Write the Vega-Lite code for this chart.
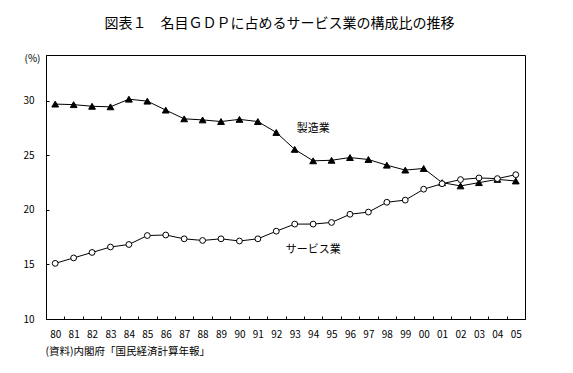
{
  "$schema": "https://vega.github.io/schema/vega-lite/v6.json",
  "width": 479,
  "height": 264,
  "autosize": {"type": "none"},
  "padding": {"left": 46, "top": 55, "right": 48, "bottom": 54},
  "background": "white",
  "title": {"text": "図表１　名目ＧＤＰに占めるサービス業の構成比の推移", "fontSize": 14, "fontWeight": "normal", "font": "Noto Sans CJK JP", "color": "black", "anchor": "middle", "offset": 22, "dx": -6},
  "config": {
    "view": {"stroke": "black", "strokeWidth": 1},
    "font": "Noto Sans CJK JP",
    "axis": {"labelFont": "Noto Sans CJK JP", "labelFontSize": 10, "labelColor": "black", "tickColor": "black", "domainColor": "black", "grid": false, "titleFont": "Noto Sans CJK JP", "titleFontWeight": "normal", "titleColor": "black"}
  },
  "datasets": {
    "series": [
      {"year": "80", "series": "製造業", "value": 29.7},
      {"year": "81", "series": "製造業", "value": 29.65},
      {"year": "82", "series": "製造業", "value": 29.5},
      {"year": "83", "series": "製造業", "value": 29.45},
      {"year": "84", "series": "製造業", "value": 30.15},
      {"year": "85", "series": "製造業", "value": 29.97},
      {"year": "86", "series": "製造業", "value": 29.15},
      {"year": "87", "series": "製造業", "value": 28.35},
      {"year": "88", "series": "製造業", "value": 28.25},
      {"year": "89", "series": "製造業", "value": 28.1},
      {"year": "90", "series": "製造業", "value": 28.3},
      {"year": "91", "series": "製造業", "value": 28.1},
      {"year": "92", "series": "製造業", "value": 27.1},
      {"year": "93", "series": "製造業", "value": 25.55},
      {"year": "94", "series": "製造業", "value": 24.5},
      {"year": "95", "series": "製造業", "value": 24.55},
      {"year": "96", "series": "製造業", "value": 24.8},
      {"year": "97", "series": "製造業", "value": 24.62},
      {"year": "98", "series": "製造業", "value": 24.1},
      {"year": "99", "series": "製造業", "value": 23.65},
      {"year": "00", "series": "製造業", "value": 23.8},
      {"year": "01", "series": "製造業", "value": 22.5},
      {"year": "02", "series": "製造業", "value": 22.2},
      {"year": "03", "series": "製造業", "value": 22.5},
      {"year": "04", "series": "製造業", "value": 22.8},
      {"year": "05", "series": "製造業", "value": 22.65},
      {"year": "80", "series": "サービス業", "value": 15.1},
      {"year": "81", "series": "サービス業", "value": 15.6},
      {"year": "82", "series": "サービス業", "value": 16.1},
      {"year": "83", "series": "サービス業", "value": 16.6},
      {"year": "84", "series": "サービス業", "value": 16.83},
      {"year": "85", "series": "サービス業", "value": 17.65},
      {"year": "86", "series": "サービス業", "value": 17.7},
      {"year": "87", "series": "サービス業", "value": 17.35},
      {"year": "88", "series": "サービス業", "value": 17.2},
      {"year": "89", "series": "サービス業", "value": 17.35},
      {"year": "90", "series": "サービス業", "value": 17.15},
      {"year": "91", "series": "サービス業", "value": 17.35},
      {"year": "92", "series": "サービス業", "value": 18.05},
      {"year": "93", "series": "サービス業", "value": 18.7},
      {"year": "94", "series": "サービス業", "value": 18.7},
      {"year": "95", "series": "サービス業", "value": 18.85},
      {"year": "96", "series": "サービス業", "value": 19.6},
      {"year": "97", "series": "サービス業", "value": 19.8},
      {"year": "98", "series": "サービス業", "value": 20.7},
      {"year": "99", "series": "サービス業", "value": 20.9},
      {"year": "00", "series": "サービス業", "value": 21.9},
      {"year": "01", "series": "サービス業", "value": 22.4},
      {"year": "02", "series": "サービス業", "value": 22.78},
      {"year": "03", "series": "サービス業", "value": 22.93},
      {"year": "04", "series": "サービス業", "value": 22.87},
      {"year": "05", "series": "サービス業", "value": 23.23}
    ],
    "labels": [
      {"year": "94", "value": 27.4, "label": "製造業"},
      {"year": "94", "value": 16.3, "label": "サービス業"}
    ]
  },
  "encoding": {
    "x": {
      "field": "year", "type": "ordinal", "sort": null, "bandPosition": 0.5,
      "scale": {"type": "band", "paddingInner": 0, "paddingOuter": 0},
      "axis": {"labelAngle": 0, "tickBand": "extent", "tickSize": -3, "labelPadding": 13, "domain": true,
        "title": "(資料)内閣府「国民経済計算年報」", "titleFontSize": 10.5, "titleAnchor": null, "titleAlign": "left", "titleBaseline": "middle", "titleX": -1, "titleY": 32}
    },
    "y": {
      "field": "value", "type": "quantitative",
      "scale": {"domain": [10, 34.2], "nice": false, "zero": false},
      "axis": {"values": [10, 15, 20, 25, 30], "tickSize": -3, "labelPadding": 15, "domain": true,
        "title": "(%)", "titleFontSize": 10, "titleAngle": 0, "titleAnchor": null, "titleAlign": "center", "titleBaseline": "middle", "titleX": -14, "titleY": 3}
    }
  },
  "layer": [
    {
      "data": {"name": "series"},
      "mark": {"type": "line", "color": "black", "strokeWidth": 1},
      "encoding": {"detail": {"field": "series"}}
    },
    {
      "data": {"name": "series"},
      "mark": {"type": "point", "filled": true, "stroke": "black", "strokeWidth": 1, "opacity": 1},
      "encoding": {
        "shape": {"field": "series", "scale": {"domain": ["製造業", "サービス業"], "range": ["triangle-up", "circle"]}, "legend": null},
        "fill": {"field": "series", "scale": {"domain": ["製造業", "サービス業"], "range": ["black", "white"]}, "legend": null},
        "size": {"field": "series", "scale": {"domain": ["製造業", "サービス業"], "range": [46, 34]}, "legend": null}
      }
    },
    {
      "data": {"name": "labels"},
      "mark": {"type": "text", "fontSize": 11, "color": "black", "font": "Noto Sans CJK JP"},
      "encoding": {"text": {"field": "label"}}
    }
  ]
}
